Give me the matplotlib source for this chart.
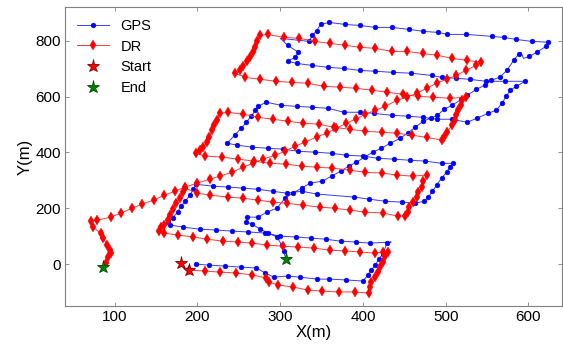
import numpy as np
import matplotlib
matplotlib.use('Agg')
import matplotlib.pyplot as plt

plt.rcParams['font.family'] = ['Liberation Sans', 'DejaVu Sans']

# GPS track (x, y) in metres, in driving order
gps_pts = [
    (198, 0), (214, -4), (233, -7), (253, -11), (271, -14), (282, -32), (292, -47),
    (309, -43), (324, -47), (345, -54), (359, -54), (380, -57), (400, -61),
    (406, -39), (410, -21), (415, -4), (419, 18), (424, 36), (429, 75), (434, 79),
    (408, 75), (391, 79), (373, 82), (355, 89), (337, 93), (319, 97), (300, 100),
    (282, 111), (261, 115), (242, 118), (222, 122), (203, 125), (183, 132), (167, 140),
    (165, 150), (170, 165), (176, 186), (180, 208), (185, 225), (191, 247), (195, 268),
    (198, 286), (219, 279), (237, 276), (255, 272), (273, 268), (291, 261), (308, 254),
    (326, 261), (344, 251), (389, 240), (407, 233), (427, 225), (447, 222), (463, 218),
    (474, 225),
    (479, 240), (484, 261), (489, 283), (495, 308), (501, 329), (505, 347), (509, 361),
    (495, 361), (475, 369), (457, 372), (437, 376), (418, 379), (400, 387), (380, 390),
    (362, 397), (342, 401), (322, 404), (303, 412), (285, 415), (266, 419), (248, 426),
    (236, 433),
    (245, 462), (253, 487), (259, 508), (265, 530), (270, 551), (273, 565), (283, 580),
    (301, 569), (320, 565), (339, 562), (358, 558), (377, 544), (396, 544), (413, 540),
    (435, 533), (454, 530), (472, 526), (490, 519), (507, 519), (526, 508),
    (538, 523), (551, 540), (561, 551), (568, 576), (573, 601), (578, 623), (585, 637),
    (596, 655),
    (572, 655), (549, 655), (529, 662), (512, 666), (495, 669), (483, 676), (458, 684),
    (436, 687), (415, 691), (396, 694), (377, 701), (358, 705), (338, 712), (320, 719),
    (309, 727),
    (318, 741), (322, 759), (309, 784), (300, 809), (335, 798),
    (339, 820), (344, 837), (349, 859), (359, 866),
    (378, 859), (397, 855), (415, 848), (435, 848), (456, 841), (473, 834), (491, 830),
    (502, 823), (525, 823), (556, 816), (571, 812), (585, 805), (604, 798), (624, 795),
    (621, 780), (610, 759), (601, 744), (594, 737), (591, 759),
    (588, 752), (582, 730), (574, 694), (565, 669), (555, 659), (547, 641), (537, 626),
    (526, 605), (519, 591), (508, 569), (498, 555), (490, 533), (482, 523), (473, 512),
    (463, 490), (454, 469), (445, 451), (433, 433), (422, 415), (412, 401), (402, 383),
    (392, 365), (383, 351), (373, 333), (362, 315), (351, 297), (336, 290), (326, 272),
    (315, 254), (306, 236), (296, 200), (284, 186), (273, 168), (260, 168), (259, 150),
    (266, 143), (276, 125), (285, 111), (296, 97), (302, 68), (304, 47), (307, 18),
]
# GPS vertices drawn without a dot
gps_bare = [(434, 79), (300, 809), (594, 737), (591, 759), (307, 18)]

# dead-reckoning track
dr_pts = [
    (190, -22), (209, -25), (227, -29), (247, -32), (266, -39), (283, -50), (286, -64),
    (297, -75), (315, -82), (333, -93), (351, -97), (371, -100), (390, -100), (407, -104),
    (408, -82), (410, -64), (414, -47), (418, -29), (421, -11), (424, 7), (427, 29),
    (430, 43),
    (424, 43), (414, 39), (397, 43), (378, 47), (360, 50), (341, 57), (321, 61),
    (303, 64), (284, 68), (266, 75), (249, 79), (231, 82), (212, 89), (195, 97),
    (176, 104), (159, 111),
    (153, 118), (156, 132), (159, 140), (164, 157), (167, 175), (170, 197), (174, 218),
    (179, 236), (183, 258), (185, 272),
    (200, 254), (215, 247), (237, 240), (255, 236), (273, 229), (291, 222), (308, 218),
    (327, 211), (348, 204), (366, 200), (384, 193), (403, 186), (424, 183), (442, 172),
    (451, 172),
    (454, 186), (456, 204), (460, 222), (465, 240), (467, 258), (471, 276), (473, 297),
    (477, 319),
    (460, 315), (441, 319), (423, 326), (403, 329), (384, 336), (363, 344), (344, 347),
    (326, 351), (307, 358), (288, 361), (268, 369), (249, 376), (230, 383), (209, 387),
    (198, 397),
    (203, 408), (207, 419), (212, 437), (214, 455), (218, 480), (220, 497), (224, 515),
    (227, 540),
    (237, 544), (255, 537), (273, 526), (291, 519), (309, 512), (327, 505), (347, 501),
    (365, 490), (384, 483), (403, 476), (423, 472), (441, 469), (459, 462), (477, 454),
    (496, 444),
    (498, 455), (502, 472), (507, 497), (511, 515), (513, 533), (515, 551), (519, 569),
    (520, 587), (524, 598),
    (505, 594), (485, 598), (466, 601), (448, 608), (429, 616), (411, 623), (391, 630),
    (372, 634), (353, 637), (333, 648), (314, 651), (295, 655), (276, 662), (258, 669),
    (245, 684),
    (252, 694), (255, 709), (260, 727), (264, 741), (267, 759), (270, 777), (272, 798),
    (276, 820),
    (285, 823), (305, 812), (323, 809), (342, 798), (360, 791), (378, 784), (396, 777),
    (415, 773), (435, 762), (453, 762), (472, 755), (490, 748), (508, 737), (526, 730),
    (543, 723),
    (537, 712), (524, 694), (513, 676), (501, 662), (489, 648), (477, 630), (465, 612),
    (453, 598), (441, 587), (427, 565), (415, 551), (403, 537), (391, 519), (380, 505),
    (368, 487), (356, 469), (344, 455), (330, 437), (318, 422), (306, 404), (294, 390),
    (279, 376), (267, 361), (255, 347), (242, 329), (227, 315), (215, 304), (200, 290),
    (185, 276), (173, 261), (160, 247), (147, 229), (133, 215), (121, 200), (108, 183),
    (95, 168), (79, 157), (71, 154),
    (74, 132), (83, 111), (86, 93), (91, 68), (94, 50), (95, 39), (92, 25), (89, 4),
    (86, -11),
]

start_x = [180, 190]
start_y = [4, -22]
end_x = [307, 86]
end_y = [18, -11]

gps_x, gps_y = zip(*gps_pts)
dr_x, dr_y = zip(*dr_pts)
gps_mark = [p not in gps_bare for p in gps_pts]
dr_mark = [True] * (len(dr_pts) - 1) + [False]

fig = plt.figure(figsize=(5.63, 3.5), dpi=100)
ax = fig.add_axes([0.1155, 0.126, 0.882, 0.853])

ax.plot(gps_x, gps_y, '-', color='#3b3bff', lw=0.7, marker='o', ms=3.4,
        markevery=gps_mark, mec='blue', mfc='blue', mew=0.4, label='GPS')
ax.plot(dr_x, dr_y, '-', color='#ff3b3b', lw=0.7, marker='d', ms=5.2,
        markevery=dr_mark, mec='red', mfc='red', mew=0.3, label='DR')
ax.plot(start_x, start_y, '*', ms=9.5, mfc='red', mec='#8b0000', mew=0.6,
        ls='none', label='Start')
ax.plot(end_x, end_y, '*', ms=9.5, mfc='green', mec='#004d00', mew=0.6,
        ls='none', label='End')

ax.set_xlim(40, 640)
ax.set_ylim(-150, 920)
ax.set_xticks([100, 200, 300, 400, 500, 600])
ax.set_yticks([0, 200, 400, 600, 800])
ax.set_xlabel('X(m)', fontsize=12, labelpad=1)
ax.set_ylabel('Y(m)', fontsize=12, labelpad=2)
ax.tick_params(direction='in', top=True, right=True, length=3, width=0.6,
               color='#808080', labelsize=11, pad=3)
for s in ax.spines.values():
    s.set_color('#808080')
    s.set_linewidth(0.8)

ax.legend(loc='upper left', frameon=False, fontsize=10.5, handlelength=2.2,
          labelspacing=0.45, borderaxespad=0.4, handletextpad=0.8)

fig.savefig('out.png', dpi=100)
